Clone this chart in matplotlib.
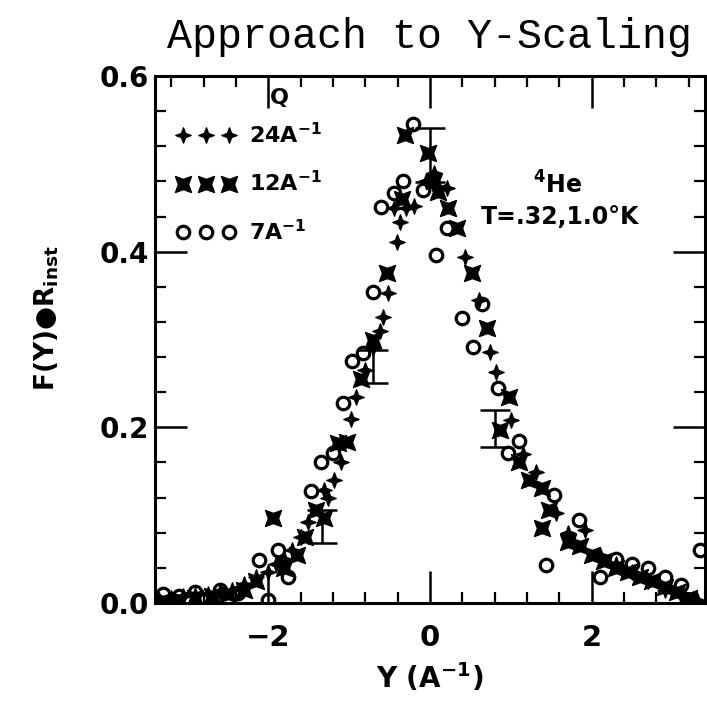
import matplotlib
matplotlib.use("Agg")
import matplotlib.pyplot as plt
import numpy as np
from matplotlib.path import Path
from matplotlib.lines import Line2D
from matplotlib.ticker import MultipleLocator, FormatStrFormatter

# ---------------- data ----------------
Y24 = [-3.35, -3.2, -3.05, -2.9, -2.75, -2.6, -2.45, -2.3, -2.15, -2.0, -1.9, -1.8, -1.7,
       -1.6, -1.51, -1.31, -1.26, -1.19, -1.1, -0.98, -0.92, -0.8, -0.7, -0.62, -0.58, -0.52,
       -0.45, -0.41, -0.37, -0.3, -0.2, -0.05, 0.05, 0.21, 0.43, 0.6, 0.74, 0.82, 1.0, 1.15,
       1.31, 1.56, 1.7, 1.92, 2.1, 2.3, 2.5, 2.7, 2.9, 3.1, 3.3]
F24 = [0.003, 0.006, 0.008, 0.009, 0.010, 0.012, 0.015, 0.022, 0.030, 0.035, 0.045, 0.050,
       0.060, 0.075, 0.092, 0.129, 0.120, 0.140, 0.161, 0.210, 0.235, 0.265, 0.290, 0.310,
       0.326, 0.353, 0.450, 0.411, 0.434, 0.450, 0.452, 0.480, 0.490, 0.473, 0.394, 0.345,
       0.286, 0.263, 0.208, 0.170, 0.149, 0.102, 0.080, 0.083, 0.055, 0.045, 0.035, 0.025,
       0.015, 0.008, 0.004]

Y12 = [-3.3, -3.1, -2.9, -2.7, -2.5, -2.3, -2.15, -1.94, -1.8, -1.65, -1.55, -1.41, -1.31,
       -1.14, -1.02, -0.85, -0.7, -0.53, -0.35, -0.31, -0.02, 0.05, 0.1, 0.22, 0.33, 0.52,
       0.71, 0.86, 0.98, 1.1, 1.23, 1.39, 1.39, 1.47, 1.7, 1.85, 2.0, 2.15, 2.3, 2.45, 2.6,
       2.75, 2.9, 3.05, 3.2]
F12 = [0.002, 0.004, 0.006, 0.008, 0.010, 0.015, 0.025, 0.097, 0.040, 0.055, 0.075, 0.106,
       0.097, 0.182, 0.183, 0.255, 0.300, 0.376, 0.460, 0.533, 0.512, 0.480, 0.468, 0.450,
       0.427, 0.376, 0.313, 0.197, 0.235, 0.160, 0.140, 0.131, 0.085, 0.106, 0.070, 0.065,
       0.055, 0.048, 0.040, 0.035, 0.030, 0.025, 0.018, 0.012, 0.006]

Y7 = [-3.3, -3.1, -2.9, -2.6, -2.37, -2.12, -2.0, -1.88, -1.75, -1.47, -1.35, -1.2, -1.08,
      -0.96, -0.83, -0.71, -0.61, -0.45, -0.33, -0.21, -0.09, 0.08, 0.21, 0.39, 0.53, 0.64,
      0.84, 0.96, 1.1, 1.43, 1.53, 1.84, 2.1, 2.3, 2.5, 2.7, 2.9, 3.1, 3.34]
F7 = [0.010, 0.008, 0.012, 0.015, 0.011, 0.049, 0.003, 0.060, 0.030, 0.127, 0.161, 0.171,
      0.228, 0.275, 0.285, 0.354, 0.451, 0.467, 0.480, 0.545, 0.470, 0.396, 0.427, 0.325,
      0.292, 0.340, 0.245, 0.171, 0.184, 0.043, 0.123, 0.095, 0.030, 0.050, 0.045, 0.040,
      0.030, 0.020, 0.060]

# representative error bars
ERR_Y = [0.0, -0.71, -1.33, 0.80]
ERR_F = [0.510, 0.269, 0.087, 0.199]
ERR_D = [0.031, 0.019, 0.019, 0.021]

LEGEND_LABELS = ["24A$^{\\mathbf{-1}}$", "12A$^{\\mathbf{-1}}$", "7A$^{\\mathbf{-1}}$"]

# ---------------- style ----------------
plt.rcParams["font.family"] = ["DejaVu Sans"]
plt.rcParams["font.weight"] = "bold"
plt.rcParams["axes.labelweight"] = "bold"
plt.rcParams["mathtext.default"] = "bf"


def star_path(inner, angle_deg):
    p = Path.unit_regular_star(4, inner)
    a = np.deg2rad(angle_deg)
    rot = np.array([[np.cos(a), -np.sin(a)], [np.sin(a), np.cos(a)]])
    return Path(p.vertices @ rot.T, p.codes)


PLUS = star_path(0.38, 0)
CROSS = star_path(0.45, 45)
MS_PLUS, MS_CROSS, MS_CIRC = 11, 11.5, 9

fig = plt.figure(figsize=(7.07, 7.03), dpi=100)
ax = fig.add_axes([0.2192, 0.1422, 0.778, 0.7497])

ax.errorbar(ERR_Y, ERR_F, yerr=ERR_D, fmt="none", ecolor="k", elinewidth=1.8,
            capsize=11, capthick=1.8, zorder=2)

ax.plot(Y24, F24, ls="none", marker=PLUS, ms=MS_PLUS, color="k", mec="k", mew=1.0, zorder=3)
ax.plot(Y12, F12, ls="none", marker=CROSS, ms=MS_CROSS, color="k", mec="k", mew=1.0, zorder=3)
ax.plot(Y7, F7, ls="none", marker="o", ms=MS_CIRC, mfc="none", mec="k", mew=2.3, zorder=3)

ax.set_xlim(-3.4, 3.4)
ax.set_ylim(0.0, 0.6)
ax.xaxis.set_major_locator(MultipleLocator(2))
ax.xaxis.set_minor_locator(MultipleLocator(0.4))
ax.yaxis.set_major_locator(MultipleLocator(0.2))
ax.yaxis.set_minor_locator(MultipleLocator(0.04))
ax.yaxis.set_major_formatter(FormatStrFormatter("%.1f"))

for s in ax.spines.values():
    s.set_linewidth(2.2)
ax.tick_params(which="major", direction="in", length=23, width=1.8,
               top=True, right=True, labelsize=20)
ax.tick_params(which="minor", direction="in", length=8, width=1.6,
               top=True, right=True)
ax.tick_params(axis="x", which="major", pad=15, labelsize=21)
ax.tick_params(axis="y", which="major", pad=4)

ax.set_title("Approach to Y-Scaling", family="Liberation Mono", fontweight="normal",
             fontsize=30, pad=20)
ax.set_xlabel("Y (A$^{\\mathbf{-1}}$)", fontsize=20, fontweight="bold")
ax.xaxis.set_label_coords(0.5, -0.11)
ax.set_ylabel("F(Y)\u25cfR$_{\\mathbf{inst}}$", fontsize=19, fontweight="bold")
ax.yaxis.set_label_coords(-0.17, 0.541)

# legend
handles = [
    Line2D([], [], ls="none", marker=PLUS, ms=MS_PLUS, color="k", mew=1.0),
    Line2D([], [], ls="none", marker=CROSS, ms=MS_CROSS, color="k", mew=1.0),
    Line2D([], [], ls="none", marker="o", ms=MS_CIRC, mfc="none", mec="k", mew=2.3),
]
ax.legend(handles, LEGEND_LABELS, loc="upper left", bbox_to_anchor=(0.038, 0.913),
          numpoints=3, frameon=False, fontsize=16, handlelength=2.7,
          handletextpad=0.6, labelspacing=1.05, borderpad=0, borderaxespad=0)
ax.text(0.227, 0.958, "Q", transform=ax.transAxes, ha="center", va="center", fontsize=16)

ax.text(0.731, 0.793, "$^{\\mathbf{4}}$He", transform=ax.transAxes, ha="center",
        va="center", fontsize=17)
ax.text(0.736, 0.732, "T=.32,1.0\u00b0K", transform=ax.transAxes, ha="center",
        va="center", fontsize=17)

fig.savefig("out.png", dpi=100)
